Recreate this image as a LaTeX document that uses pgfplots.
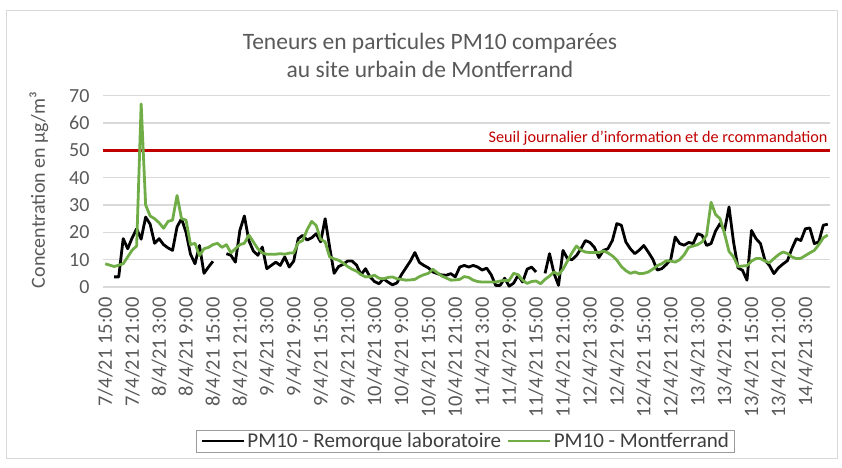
\documentclass[border=0pt]{standalone}
\usepackage{fontspec}
\setmainfont{Carlito}
\usepackage{pgfplots}
\usepackage{pgfplotstable}
\pgfplotsset{compat=1.18}
\definecolor{txtgray}{HTML}{595959}
\definecolor{gridgray}{HTML}{D9D9D9}
\definecolor{pmgreen}{HTML}{70AD47}
\definecolor{seuilred}{HTML}{C00000}

\pgfplotstableread{
h blk grn
0 nan 8.5
1 nan 8
2 3.7 7.5
3 3.7 8
4 17.7 8.5
5 14 11
6 18 13.5
7 21.3 15
8 17.5 67
9 25.6 30
10 23 26
11 16 25
12 17.7 23.5
13 15.5 21.5
14 14.3 24
15 13.4 24.5
16 22 33.5
17 25 25
18 20 24.5
19 12 15.5
20 8.5 16
21 15.2 11.5
22 5 14
23 7.3 14.5
24 9.4 15.5
25 nan 16
26 nan 14.5
27 12.2 15.5
28 11.6 12.5
29 9.1 14
30 20.7 15.5
31 26 16
32 17 19
33 13.2 16.5
34 11.6 14
35 14.6 12.5
36 6.7 12
37 7.9 12
38 9.1 12
39 7.9 12.2
40 11 12
41 7.3 12.4
42 9.5 12.5
43 17.7 16.2
44 18.9 17
45 17.2 21
46 18 24
47 19.5 22.5
48 16.5 17.5
49 25 16.5
50 14.6 11
51 5 10.3
52 7.5 9.8
53 8.3 8.8
54 9.5 7.5
55 9.5 6.5
56 8 5.8
57 4.5 4.5
58 6.7 3.7
59 3.7 3.8
60 2 4.3
61 1.2 3.2
62 3 3
63 1.8 3.5
64 0.8 3.7
65 1.5 3
66 4.5 2.8
67 7 2.5
68 9.5 2.6
69 12.6 2.8
70 9 3.8
71 7.9 4.5
72 7 5
73 5.5 6.5
74 4.9 5.2
75 4.4 4
76 4.3 3.3
77 4.9 2.5
78 3.7 2.6
79 7.3 2.8
80 7.9 3.8
81 7.3 3.5
82 7.9 2.5
83 7.3 2
84 6.2 1.8
85 6.9 1.8
86 4.5 1.8
87 0.6 1.8
88 0.6 2.2
89 3.2 2.4
90 0.3 2.4
91 1.4 5
92 4.3 4.5
93 1.8 2.5
94 6.5 1.3
95 7.3 2
96 5.5 2.2
97 nan 1.2
98 5 2.8
99 12.2 4
100 5 5.5
101 0.6 4.5
102 13.4 6.5
103 10.4 9.5
104 10 12.5
105 11.5 15
106 14 13.5
107 17 12.8
108 16.3 12.6
109 14.5 12.6
110 10.8 12.6
111 13.4 13.2
112 14 12.5
113 17 11.4
114 23.2 9.8
115 22.6 7.5
116 16.5 6
117 14 5
118 12.2 5.5
119 13.5 4.9
120 15.2 5
121 12.8 5.5
122 10.2 6.5
123 6.2 7.8
124 6.7 8.5
125 8.2 9.6
126 10 9.5
127 18.3 9.1
128 15.9 10
129 15.3 11.8
130 16.3 14.5
131 15.9 15
132 19.5 15.5
133 18.9 16.5
134 15.2 19
135 15.9 31
136 20.5 26.5
137 23.2 25
138 20.7 19.5
139 29.3 13
140 16.5 11
141 7 7.5
142 6.1 7.7
143 2.5 7.8
144 20.7 9.5
145 17.7 10.4
146 15.9 10.4
147 9.8 9.5
148 7.9 8.9
149 4.9 10.4
150 7 11.8
151 8.4 12.8
152 9.6 12.3
153 14 11
154 17.7 10.4
155 17 10.5
156 21.3 11.5
157 21.6 12.5
158 15.9 13.4
159 16.5 15.5
160 22.6 18
161 23 19
}\pmdata

\begin{document}
\begin{tikzpicture}
\path[use as bounding box] (0pt,0pt) rectangle (842pt,467pt);
\draw[gridgray, line width=1pt] (6pt,9pt) rectangle (837pt,456pt);
\node[align=center, text=txtgray, font=\fontsize{23.5}{28}\selectfont] at (430pt,411.5pt)
  {Teneurs en particules PM10 comparées\\au site urbain de Montferrand};
\node[rotate=90, text=txtgray, font=\fontsize{20}{23}\selectfont] at (39pt,277pt)
  {Concentration en µg/m³};
\begin{axis}[
  at={(103pt,180pt)}, anchor=south west,
  scale only axis, width=727pt, height=191.3pt,
  xmin=-0.5, xmax=161.5, ymin=0, ymax=70,
  ytick={0,10,...,70},
  xtick={0,6,...,156},
  xticklabels={7/4/21 15:00,7/4/21 21:00,8/4/21 3:00,8/4/21 9:00,8/4/21 15:00,8/4/21 21:00,9/4/21 3:00,9/4/21 9:00,9/4/21 15:00,9/4/21 21:00,10/4/21 3:00,10/4/21 9:00,10/4/21 15:00,10/4/21 21:00,11/4/21 3:00,11/4/21 9:00,11/4/21 15:00,11/4/21 21:00,12/4/21 3:00,12/4/21 9:00,12/4/21 15:00,12/4/21 21:00,13/4/21 3:00,13/4/21 9:00,13/4/21 15:00,13/4/21 21:00,14/4/21 3:00},
  xticklabel style={rotate=90, anchor=east, text=txtgray, font=\fontsize{20.5}{23}\selectfont, xshift=-7pt},
  yticklabel style={text=txtgray, font=\fontsize{20}{23}\selectfont, xshift=-10pt},
  /pgf/number format/assume math mode=true,
  ymajorgrids, grid style={gridgray, line width=1.3pt},
  axis x line*=bottom, axis y line*=left,
  x axis line style={gridgray, line width=1.3pt, -},
  y axis line style={draw=none},
  tick style={draw=none},
  unbounded coords=jump,
  legend columns=2,
  legend style={at={(0.499,-0.805)}, anchor=center, draw=txtgray!60, line width=0.8pt,
    font=\fontsize{21}{24}\selectfont, text=txtgray!70!black, inner xsep=4pt, inner ysep=1pt,
    /tikz/every even column/.append style={column sep=4pt}},
  legend image code/.code={\draw[#1] (0pt,0pt) -- (42pt,0pt);},
  clip=false,
]
\addplot[seuilred, line width=2.4pt, forget plot] coordinates {(-0.5,50) (161.5,50)};
\node[anchor=south east, text=seuilred, font=\fontsize{16.2}{19}\selectfont, inner sep=0pt] at (axis cs:161,50) [yshift=5pt] {Seuil journalier d'information et de rcommandation};
\addplot[black, line width=2.8pt, line join=round] table[x=h, y=blk] {\pmdata};
\addlegendentry{PM10 - Remorque laboratoire}
\addplot[pmgreen, line width=2.8pt, line join=round] table[x=h, y=grn] {\pmdata};
\addlegendentry{PM10 - Montferrand}
\end{axis}
\end{tikzpicture}
\end{document}
